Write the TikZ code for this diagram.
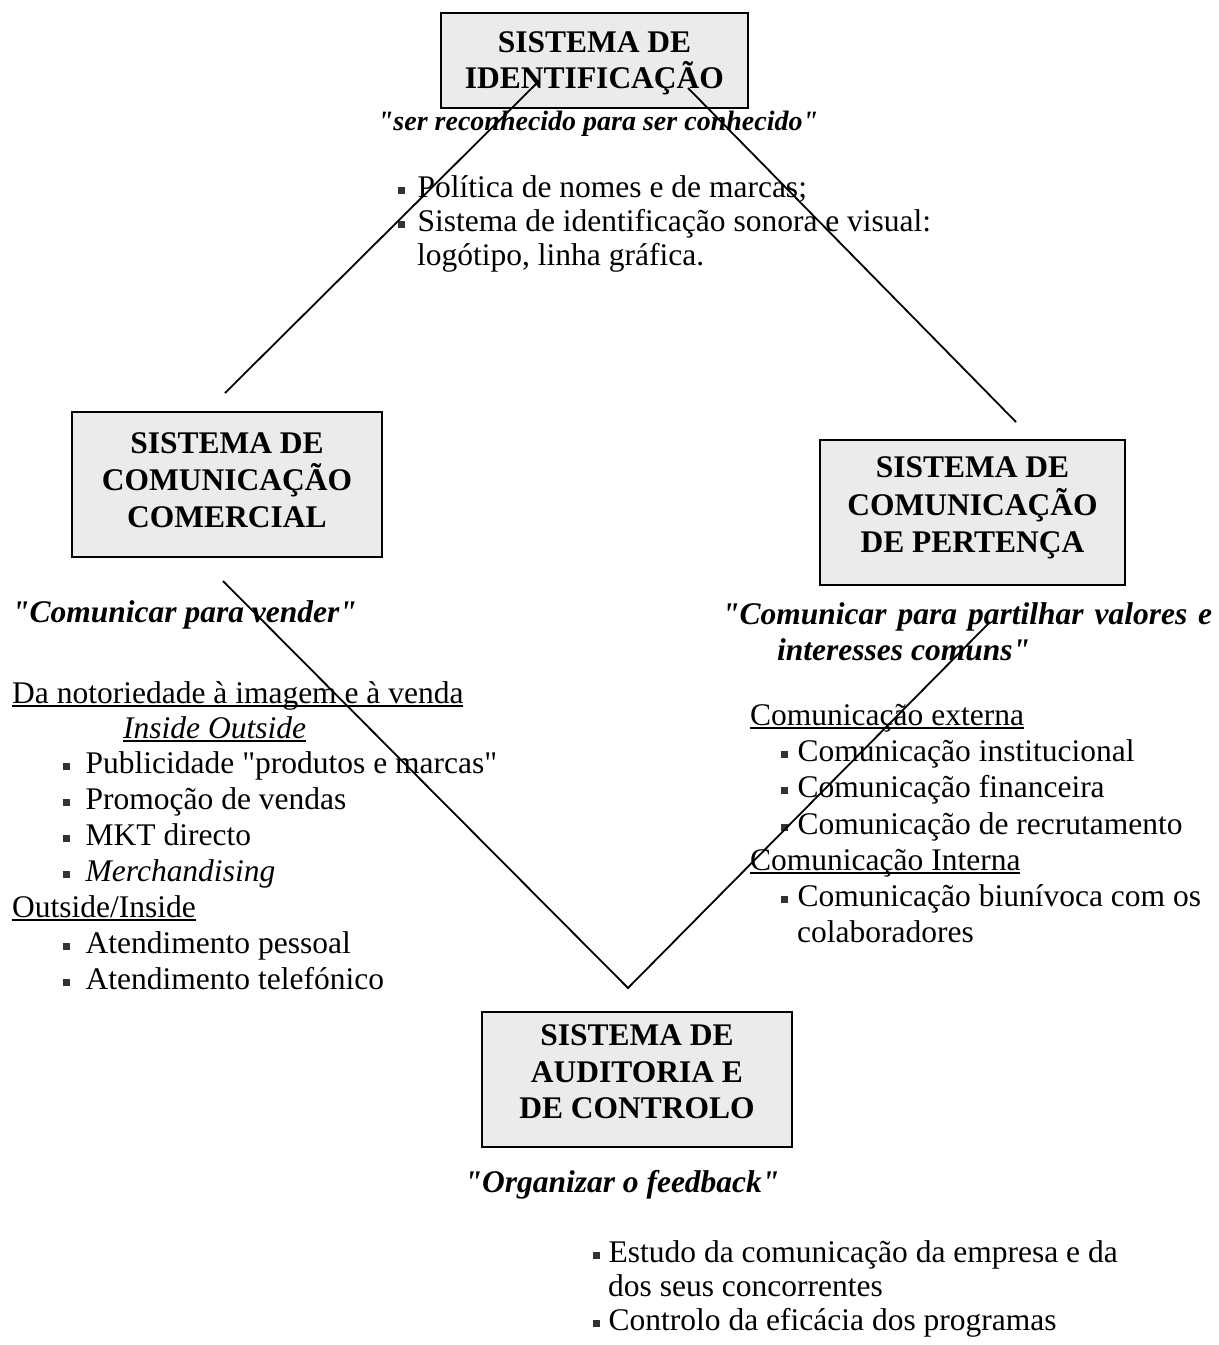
\documentclass[tikz,border=0pt]{standalone}
\usepackage{fontspec}
\setmainfont{Liberation Serif}[Ligatures=TeXOff]
\newsavebox{\ulbox}
\newcommand{\myul}[1]{\sbox{\ulbox}{#1}\rlap{\rule[-3.5pt]{\wd\ulbox}{1.6pt}}\usebox{\ulbox}}
\newcommand{\blt}{\textcolor{black!80}{\raisebox{3pt}{\rule{6.5pt}{7.5pt}}}}
\begin{document}
\begin{tikzpicture}[x=1pt,y=-1pt,
  box/.style={draw=black, line width=2pt, fill=black!8, inner sep=0},
  ttl/.style={anchor=base, inner sep=0, font=\bfseries\fontsize{31.5}{36}\selectfont},
  txt/.style={anchor=base west, inner sep=0, font=\fontsize{31.5}{36}\selectfont},
  qt/.style={inner sep=0, font=\bfseries\itshape\fontsize{31.5}{36}\selectfont},
  conn/.style={line width=1.8pt}]
\useasboundingbox (0,0) rectangle (1219,1345);

% boxes
\node[box, minimum width=307pt, minimum height=95pt] (ident) at (594.5,60.5) {};
\node[box, minimum width=310pt, minimum height=145pt] (comerc) at (227,484.5) {};
\node[box, minimum width=305pt, minimum height=145pt] (pert) at (972.5,512.5) {};
\node[box, minimum width=310pt, minimum height=135pt] (audit) at (637,1079.5) {};

% box titles
\node[ttl] (i1) at (594.5,52) {SISTEMA DE};
\node[ttl] (i2) at (594.5,88) {IDENTIFICAÇÃO};
\node[ttl] (c1) at (227,453) {SISTEMA DE};
\node[ttl] (c2) at (227,490) {COMUNICAÇÃO};
\node[ttl] (c3) at (227,527) {COMERCIAL};
\node[ttl] (p1) at (972.5,477) {SISTEMA DE};
\node[ttl] (p2) at (972.5,515) {COMUNICAÇÃO};
\node[ttl] (p3) at (972.5,552) {DE PERTENÇA};
\node[ttl] (a1) at (637,1045) {SISTEMA DE};
\node[ttl] (a2) at (637,1082) {AUDITORIA E};
\node[ttl] (a3) at (637,1118) {DE CONTROLO};

% top texts
\node[qt, anchor=base, font=\bfseries\itshape\fontsize{28}{32}\selectfont] (q1) at (598,130) {"ser reconhecido para ser conhecido"};
\node[txt] (t1) at (398,197) {\blt\hspace{13pt}Política de nomes e de marcas;};
\node[txt] (t2) at (398,231) {\blt\hspace{13pt}Sistema de identificação sonora e visual:};
\node[txt] (t3) at (417,265) {logótipo, linha gráfica.};

% left texts
\node[qt, anchor=base west] (q2) at (12,622) {"Comunicar para vender"};
\node[txt] (l1) at (12,703) {\myul{Da notoriedade à imagem e à venda}};
\node[txt] (l2) at (123,738) {\myul{\textit{Inside Outside}}};
\node[txt] (l3) at (63,773) {\blt\hspace{16pt}Publicidade "produtos e marcas"};
\node[txt] (l4) at (63,809) {\blt\hspace{16pt}Promoção de vendas};
\node[txt] (l5) at (63,845) {\blt\hspace{16pt}MKT directo};
\node[txt] (l6) at (63,881) {\blt\hspace{16pt}\textit{Merchandising}};
\node[txt] (l7) at (12,917) {\myul{Outside/Inside}};
\node[txt] (l8) at (63,953) {\blt\hspace{16pt}Atendimento pessoal};
\node[txt] (l9) at (63,989) {\blt\hspace{16pt}Atendimento telefónico};

% right texts
\node[qt, anchor=base west] (q3) at (722,624) {\makebox[490pt][s]{"Comunicar para partilhar valores e}};
\node[qt, anchor=base west] (q4) at (777,660) {interesses comuns"};
\node[txt] (r1) at (750,725) {\myul{Comunicação externa}};
\node[txt] (r2) at (781,761) {\blt\hspace{10pt}Comunicação institucional};
\node[txt] (r3) at (781,797) {\blt\hspace{10pt}Comunicação financeira};
\node[txt] (r4) at (781,834) {\blt\hspace{10pt}Comunicação de recrutamento};
\node[txt] (r5) at (750,870) {\myul{Comunicação Interna}};
\node[txt] (r6) at (781,906) {\blt\hspace{10pt}Comunicação biunívoca com os};
\node[txt] (r7) at (797,942) {colaboradores};

% bottom texts
\node[qt, anchor=base] (q5) at (622,1192) {"Organizar o feedback"};
\node[txt] (b1) at (593,1262) {\blt\hspace{9pt}Estudo da comunicação da empresa e da};
\node[txt] (b2) at (608,1296) {dos seus concorrentes};
\node[txt] (b3) at (593,1330) {\blt\hspace{9pt}Controlo da eficácia dos programas};

% connector end points
\coordinate (e1) at (225,393);
\coordinate (s1) at (537,83);
\coordinate (s2) at (688,88);
\coordinate (e2) at (1016,422);
\coordinate (s3) at (223,581);
\coordinate (v) at (628,988);
\coordinate (e4) at (990,622);

\draw[conn] (e1) -- (s1);
\draw[conn] (s2) -- (e2);
\draw[conn] (s3) -- (v) -- (e4);
\end{tikzpicture}
\end{document}
